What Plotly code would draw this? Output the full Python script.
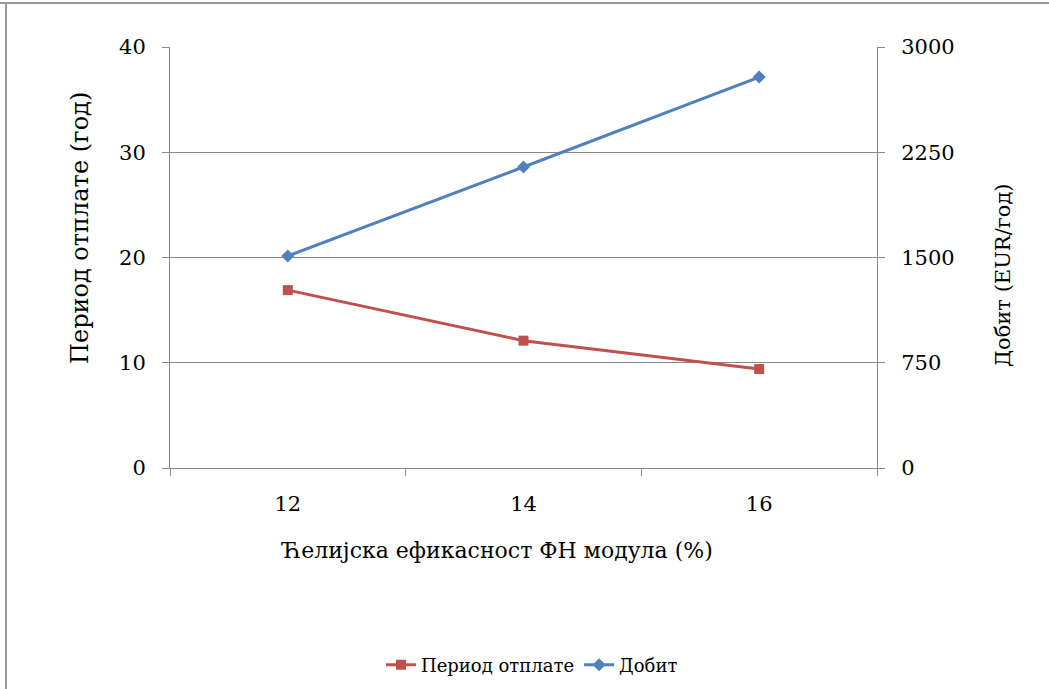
import plotly.graph_objects as go

# Cell efficiency of the PV module (%)
efficiency = ["12", "14", "16"]
# Payback period (years)
payback_years = [16.9, 12.1, 9.4]
# Annual profit (EUR/year)
profit_eur = [1511, 2145, 2786]

left_ticks = [0, 10, 20, 30, 40]
right_ticks = [0, 750, 1500, 2250, 3000]

x_title = "Ћелијска ефикасност ФН модула (%)"
y_title = "Период отплате (год)"
y2_title = "Добит (EUR/год)"

FONT = "DejaVu Serif, Liberation Serif, serif"
GRID = "#888888"

# plot area in pixels, used to place the titles in paper units
PL, PR, PT, PB = 170, 877, 47, 468
PW, PH = PR - PL, PB - PT


def px_x(x):
    return (x - PL) / PW


def px_y(y):
    return (PB - y) / PH


fig = go.Figure()
fig.add_trace(go.Scatter(
    x=efficiency, y=payback_years, name="Период отплате",
    mode="lines+markers",
    line=dict(color="#C0504D", width=3),
    marker=dict(symbol="square", size=10, color="#C0504D"),
    yaxis="y",
))
fig.add_trace(go.Scatter(
    x=efficiency, y=profit_eur, name="Добит",
    mode="lines+markers",
    line=dict(color="#4F81BD", width=3),
    marker=dict(symbol="diamond", size=10, color="#4F81BD"),
    yaxis="y2",
))

fig.update_layout(
    width=1049, height=689,
    margin=dict(l=PL, r=1049 - PR, t=PT, b=689 - PB, autoexpand=False),
    paper_bgcolor="white", plot_bgcolor="white",
    font=dict(family=FONT, color="black", size=20),
    xaxis=dict(
        type="category", range=[-0.5, 2.5], automargin=False,
        showline=True, linecolor=GRID, linewidth=1,
        ticks="outside", tickson="boundaries", ticklen=7, tickcolor=GRID,
        showgrid=False, tickfont=dict(size=21), ticklabelstandoff=17,
    ),
    yaxis=dict(
        range=[0, 40], tickvals=left_ticks, automargin=False,
        showline=True, linecolor=GRID, linewidth=1,
        ticks="outside", ticklen=7, tickcolor=GRID,
        showgrid=True, gridcolor=GRID, gridwidth=1, zeroline=False,
        tickfont=dict(size=21), ticklabelstandoff=12,
    ),
    yaxis2=dict(
        range=[0, 3000], tickvals=right_ticks, overlaying="y", side="right",
        automargin=False,
        showline=True, linecolor=GRID, linewidth=1,
        ticks="outside", ticklen=7, tickcolor=GRID,
        showgrid=False, zeroline=False,
        tickfont=dict(size=21), ticklabelstandoff=12,
    ),
    legend=dict(
        orientation="h", x=px_x(532), xanchor="center", y=px_y(665), yanchor="middle",
        font=dict(size=18), itemwidth=30, tracegroupgap=0,
    ),
    annotations=[
        dict(text=x_title, xref="paper", yref="paper", x=px_x(497), y=px_y(550),
             xanchor="center", yanchor="middle", showarrow=False, font=dict(size=22)),
        dict(text=y_title, xref="paper", yref="paper", x=px_x(80), y=px_y(228),
             xanchor="center", yanchor="middle", textangle=-90, showarrow=False,
             font=dict(size=24)),
        dict(text=y2_title, xref="paper", yref="paper", x=px_x(1003), y=px_y(275),
             xanchor="center", yanchor="middle", textangle=-90, showarrow=False,
             font=dict(size=21)),
    ],
    shapes=[
        dict(type="line", xref="paper", yref="paper", x0=px_x(0), x1=px_x(1049),
             y0=px_y(3), y1=px_y(3), line=dict(color="#999999", width=2)),
        dict(type="line", xref="paper", yref="paper", x0=px_x(6), x1=px_x(6),
             y0=px_y(3), y1=px_y(689), line=dict(color="#999999", width=2)),
    ],
)

fig.write_html("out.html")
